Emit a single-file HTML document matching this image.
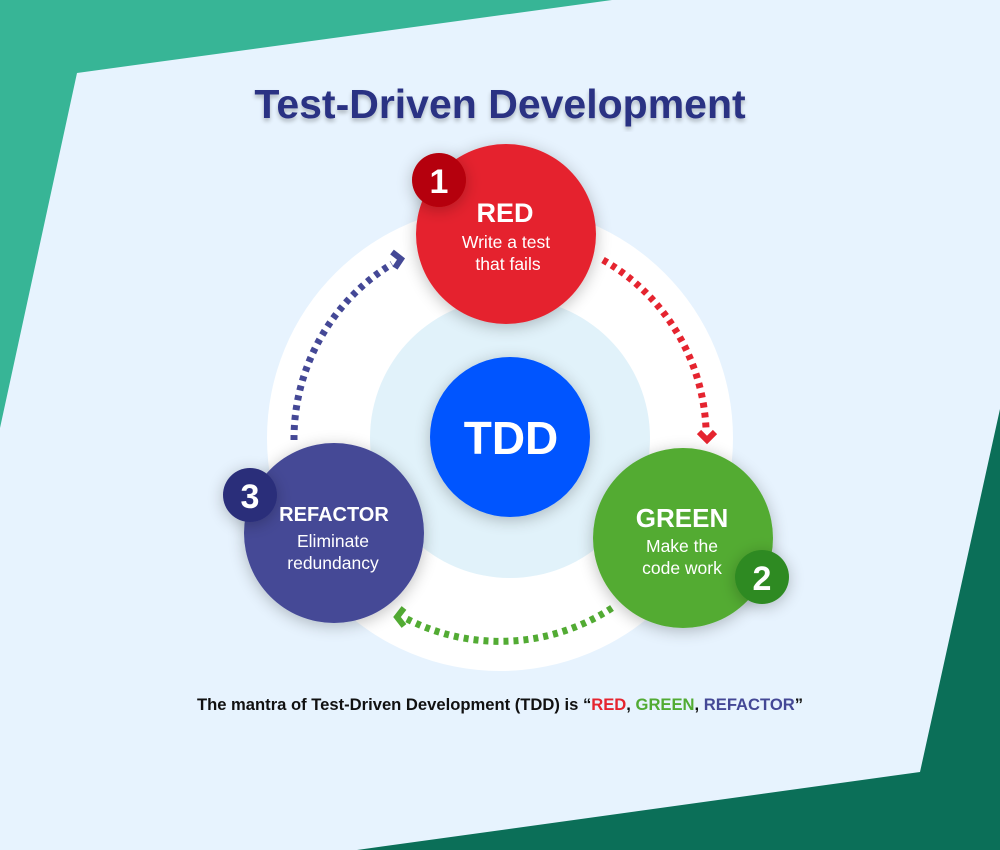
<!DOCTYPE html>
<html><head><meta charset="utf-8"><style>
html,body{margin:0;padding:0;width:1000px;height:850px;overflow:hidden;background:#e7f3fe}
svg{display:block}
</style></head><body>
<svg width="1000" height="850" viewBox="0 0 1000 850" xmlns="http://www.w3.org/2000/svg">
<defs>
<filter id="sh" x="-30%" y="-30%" width="160%" height="160%"><feGaussianBlur in="SourceAlpha" stdDeviation="8"/><feOffset dy="3"/><feComponentTransfer><feFuncA type="linear" slope="0.25"/></feComponentTransfer><feMerge><feMergeNode/><feMergeNode in="SourceGraphic"/></feMerge></filter>
<filter id="ts"><feGaussianBlur in="SourceAlpha" stdDeviation="2"/><feOffset dy="3"/><feComponentTransfer><feFuncA type="linear" slope="0.25"/></feComponentTransfer><feMerge><feMergeNode/><feMergeNode in="SourceGraphic"/></feMerge></filter>
</defs>
<rect width="1000" height="850" fill="#e7f3fe"/>
<polygon points="0,0 612,0 77,73 0,428" fill="#37b596"/>
<polygon points="1000,409 1000,850 357,850 920,772" fill="#0b6f58"/>
<text x="500" y="118" text-anchor="middle" font-family="Liberation Sans, sans-serif" font-weight="bold" font-size="41" fill="#2b3283" filter="url(#ts)">Test-Driven Development</text>
<circle cx="500" cy="438" r="233" fill="#ffffff"/>
<circle cx="510" cy="438" r="140" fill="#e1f2fa"/>
<circle cx="510" cy="437" r="80" fill="#0055ff" filter="url(#sh)"/>
<text x="511" y="454" text-anchor="middle" font-family="Liberation Sans, sans-serif" font-weight="bold" font-size="46" fill="#fff">TDD</text>
<g fill="none" stroke-width="7" stroke-dasharray="5 5">
<path d="M603,260 A205,205 0 0 1 706,428" stroke="#e5242f"/>
<path d="M612,608 A205,205 0 0 1 405,618" stroke="#52ab33"/>
<path d="M294,440 A205,205 0 0 1 392,264" stroke="#444896"/>
</g>
<path d="M699,432 L707,440 L715,432" fill="none" stroke="#e5242f" stroke-width="6"/>
<path d="M404,608 L397,617 L404,626" fill="none" stroke="#52ab33" stroke-width="6"/>
<path d="M392,252 L401,259 L395,268" fill="none" stroke="#444896" stroke-width="6"/>
<circle cx="506" cy="234" r="90" fill="#e5242f" filter="url(#sh)"/>
<circle cx="683" cy="538" r="90" fill="#52ab33" filter="url(#sh)"/>
<circle cx="334" cy="533" r="90" fill="#444896" filter="url(#sh)"/>
<circle cx="439" cy="180" r="27" fill="#b50008" filter="url(#sh)"/>
<circle cx="762" cy="577" r="27" fill="#2f8a22" filter="url(#sh)"/>
<circle cx="250" cy="495" r="27" fill="#2b2e7a" filter="url(#sh)"/>
<g font-family="Liberation Sans, sans-serif" font-weight="bold" fill="#fff" text-anchor="middle">
<text x="439" y="193" font-size="34">1</text>
<text x="762" y="590" font-size="34">2</text>
<text x="250" y="508" font-size="34">3</text>
<text x="505" y="222" font-size="27">RED</text>
<text x="682" y="527" font-size="26">GREEN</text>
<text x="334" y="521" font-size="20">REFACTOR</text>
</g>
<g font-family="Liberation Sans, sans-serif" fill="#fff" text-anchor="middle" font-size="17.5">
<text x="506" y="248">Write a test</text>
<text x="508" y="270">that fails</text>
<text x="682" y="552">Make the</text>
<text x="682" y="574">code work</text>
<text x="333" y="547">Eliminate</text>
<text x="333" y="569">redundancy</text>
</g>
<text x="500" y="710" text-anchor="middle" font-family="Liberation Sans, sans-serif" font-weight="bold" font-size="16.6" fill="#111">The mantra of Test-Driven Development (TDD) is “<tspan fill="#e5242f">RED</tspan>, <tspan fill="#52ab33">GREEN</tspan>, <tspan fill="#444896">REFACTOR</tspan>”</text>
</svg>
</body></html>
